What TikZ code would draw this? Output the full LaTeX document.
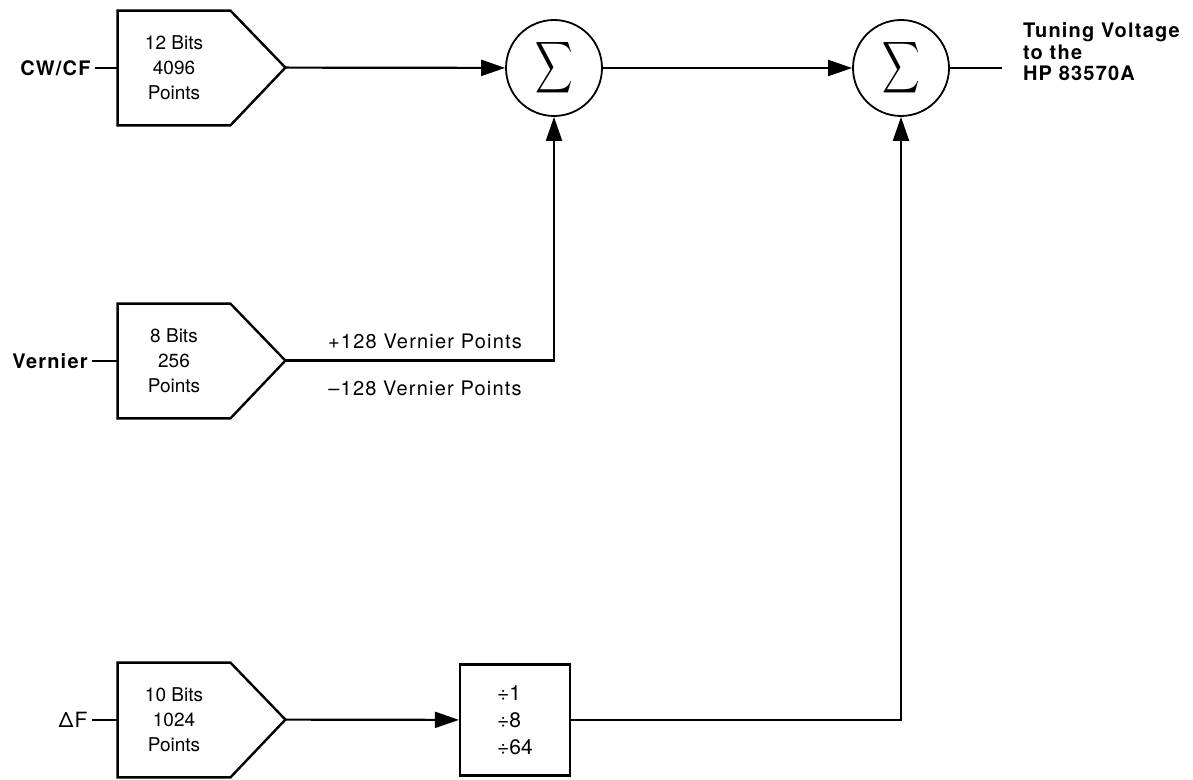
\documentclass[tikz,border=0pt]{standalone}
\usepackage{fontspec}
\setmainfont{TeX Gyre Heros}
\newfontfamily\lblfont{TeX Gyre Heros}[LetterSpace=6]
\usetikzlibrary{arrows.meta}
\newcommand\sumsign{\scalebox{1.3}[1.8]{$\displaystyle\sum$}}

\begin{document}
\begin{tikzpicture}[x=0.5pt,y=-0.5pt,
    dac/.style={minimum width=56pt,minimum height=57pt,inner sep=0pt,align=center,font=\fontsize{9.5}{12.5}\selectfont},
    dacline/.style={line width=1.2pt,line join=miter},
    sum/.style={circle,draw,line width=0.9pt,minimum size=48pt,inner sep=0pt},
    inp/.style={font=\lblfont\fontsize{10}{12}\selectfont\bfseries,anchor=east,inner sep=2pt},
    ln/.style={line width=1.1pt},
    arr/.style={ln,-{Triangle[length=12pt,width=8pt]}},
    lbl/.style={font=\lblfont\fontsize{10}{12}\selectfont}
  ]
    \useasboundingbox (0,0) rectangle (1193,780);
    \foreach \n/\y/\t in {1/68/{12 Bits\\4096\\Points},2/361/{8 Bits\\256\\Points},3/720/{10 Bits\\1024\\Points}}{
      \node[dac](dac\n) at (174,\y) {\t};
      \draw[dacline](dac\n.south west)--(dac\n.north west)--(dac\n.north east)--++(55,57) coordinate(tip\n)--(dac\n.south east)--cycle;
    }
    \node[inp](cw) at (95,68)   {CW/CF};
    \node[inp](vn) at (92,361)  {Vernier};
    \node[inp,font=\lblfont\fontsize{10.5}{12}\selectfont](df) at (92,720) {ΔF};
    \foreach \a/\b in {cw/dac1,vn/dac2,df/dac3}
      \draw[ln](\a)--(\b.west);
    \node[sum](s1) at (554,68) {\sumsign};
    \node[sum](s2) at (901,68) {\sumsign};
    \node[draw,ln,minimum width=55pt,minimum height=55.5pt,align=left,font=\fontsize{10.5}{13.5}\selectfont](div) at (515,720) {÷1\\÷8\\÷64};
    \draw[arr](tip1)--(s1);
    \draw[arr](s1)--(s2);
    \draw[arr](tip2)-|(s1);
    \node[lbl](vp) at (425,341) {+128 Vernier Points};
    \node[lbl](vm) at (425,388) {–128 Vernier Points};
    \draw[arr](tip3)--(div);
    \draw[arr](div)-|(s2);
    \draw[ln](s2.east)--++(52,0) coordinate(out);
    \node[font=\lblfont\fontsize{10}{10.75}\selectfont\bfseries,align=left,anchor=west](tv) at (1016,52) {Tuning Voltage\\to the\\HP 83570A};
  \end{tikzpicture}
\end{document}
